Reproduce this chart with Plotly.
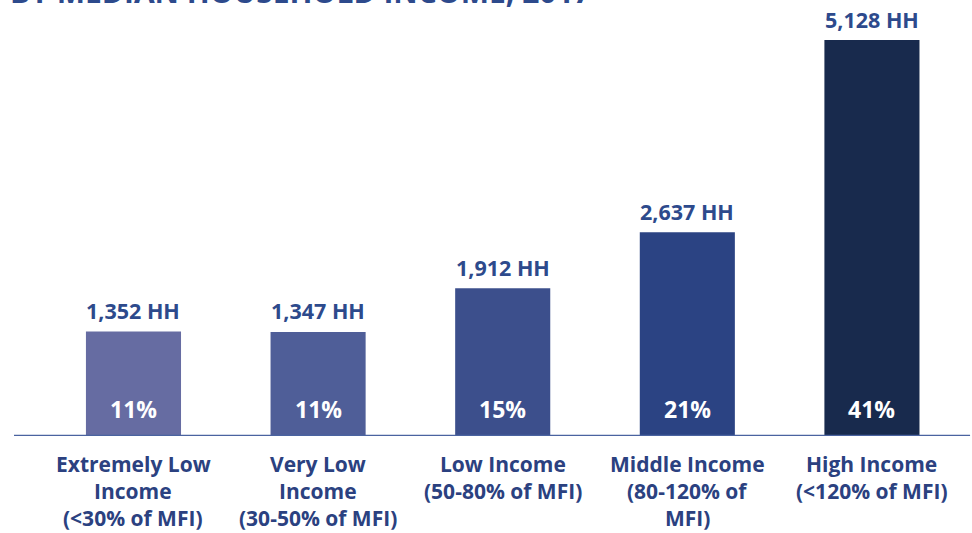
import plotly.graph_objects as go

categories = ["Extremely Low", "Very Low", "Low Income", "Middle Income", "High Income"]
label_lines = [
    ["Extremely Low", "Income", "(<30% of MFI)"],
    ["Very Low", "Income", "(30-50% of MFI)"],
    ["Low Income", "(50-80% of MFI)"],
    ["Middle Income", "(80-120% of", "MFI)"],
    ["High Income", "(<120% of MFI)"],
]
households = [1352, 1347, 1912, 2637, 5128]
shares = ["11%", "11%", "15%", "21%", "41%"]
colors = ["#666ca2", "#4f5e98", "#3c4f8c", "#2b4383", "#182a4d"]
title_text = "BY MEDIAN HOUSEHOLD INCOME, 2017"

FONT = "Open Sans"
LABEL_COLOR = "#2d4a8c"

x = list(range(len(categories)))
fig = go.Figure()
fig.add_trace(go.Bar(
    x=x, y=households, width=0.515,
    marker=dict(color=colors, line=dict(width=0)),
    hoverinfo="skip",
))

ann = []
for i, (h, s) in enumerate(zip(households, shares)):
    ann.append(dict(x=i, y=h, xref="x", yref="y", text=f"<b>{h:,} HH</b>",
                    showarrow=False, yanchor="middle", yshift=21,
                    font=dict(family=FONT, size=21.5, color=LABEL_COLOR)))
    ann.append(dict(x=i, y=0, xref="x", yref="y", text=f"<b>{s}</b>",
                    showarrow=False, yanchor="middle", yshift=27,
                    font=dict(family=FONT, size=23, color="white")))
    for j, line in enumerate(label_lines[i]):
        ann.append(dict(x=i, y=0, xref="x", yref="paper", text=f"<b>{line}</b>",
                        showarrow=False, yanchor="middle", yshift=-28 - 27 * j,
                        font=dict(family=FONT, size=21, color="#2b4180")))

ann.append(dict(x=0.008, y=1, xref="paper", yref="paper", xanchor="left", yanchor="bottom",
                yshift=26, text=f"<b>{title_text}</b>", showarrow=False,
                font=dict(family=FONT, size=30, color=LABEL_COLOR)))

fig.update_layout(
    width=972, height=533,
    margin=dict(l=0, r=0, t=40, b=97),
    plot_bgcolor="white", paper_bgcolor="white",
    showlegend=False,
    xaxis=dict(range=[-0.723, 4.542], showticklabels=False, showgrid=False,
               zeroline=False, fixedrange=True),
    yaxis=dict(range=[0, 5128], showticklabels=False, showgrid=False,
               zeroline=False, fixedrange=True),
    annotations=ann,
    shapes=[dict(type="line", xref="paper", yref="y", x0=0.0144, x1=0.998, y0=0, y1=0,
                 line=dict(color="#4a63a0", width=2.5))],
)

fig.write_html("out.html", config={"displayModeBar": False},
               post_script="document.body.style.margin='0';document.body.style.overflow='hidden';")
